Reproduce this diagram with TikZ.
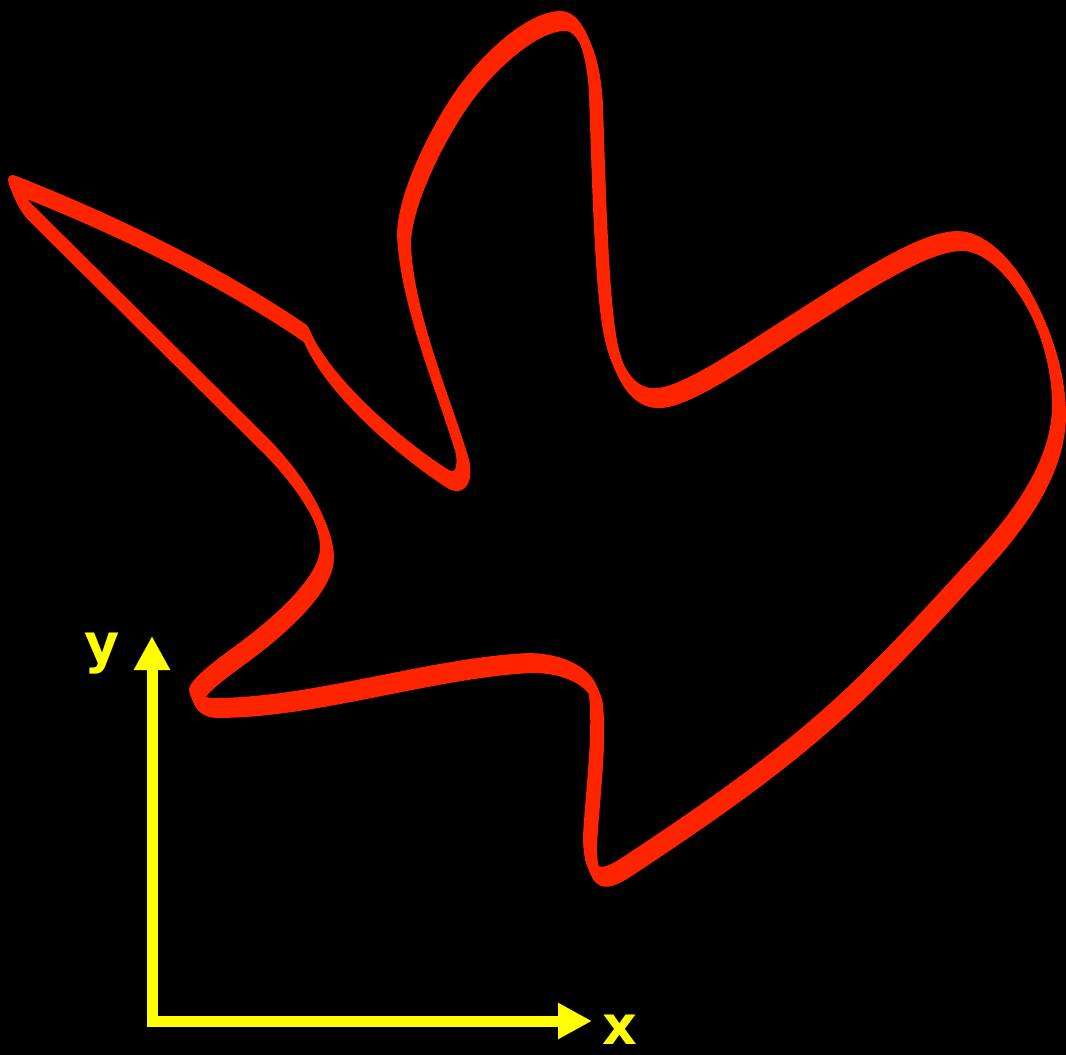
\documentclass[tikz,border=0pt]{standalone}
\usepackage{fontspec}
\newfontfamily\labfont{DejaVu Sans}
\usetikzlibrary{arrows.meta}
\definecolor{blobred}{RGB}{255,36,0}
\definecolor{axisyellow}{RGB}{255,255,0}
\tikzset{
  blobline/.style={draw=blobred, line width=9.5pt, line join=round, line cap=round},
  axisline/.style={draw=axisyellow, line width=11pt, line cap=rect, -{Triangle[length=34pt,width=34pt]}},
  axislabel/.style={text=axisyellow, inner sep=0pt, anchor=base, font=\labfont\bfseries\fontsize{54}{60}\selectfont}
}
\def\blob{
 (15,185) .. controls (110,222) and (220,275) .. (306,334)
 .. controls (326,384) and (398,447) .. (448,479)
 .. controls (462,487) and (466,471) .. (462,455)
 .. controls (444,395) and (407,310) .. (404,240)
 .. controls (404,200) and (437,135) .. (461,100)
 .. controls (489,60) and (533,21) .. (563,21)
 .. controls (581,21) and (594,55) .. (596,100)
 .. controls (599,190) and (602,305) .. (612,345)
 .. controls (618,370) and (632,401) .. (660,398)
 .. controls (690,395) and (747,355) .. (807,317)
 .. controls (867,279) and (925,241) .. (960,241)
 .. controls (1005,241) and (1059,330) .. (1059,410)
 .. controls (1059,466) and (1021,519) .. (980,563)
 .. controls (861,693) and (817,742) .. (625,868)
 .. controls (600,884) and (590,880) .. (590,840)
 .. controls (593,790) and (600,740) .. (596,700)
 .. controls (594,678) and (565,663) .. (530,663)
 .. controls (430,668) and (315,708) .. (215,708)
 .. controls (205,708) and (196,702) .. (196,694)
 .. controls (203,681) and (231,662) .. (247,650)
 .. controls (283,623) and (327,583) .. (327,553)
 .. controls (327,518) and (293,473) .. (265,445)
 -- (30,212)
 .. controls (23,205) and (17,193) .. (15,185)
 -- cycle
}
\begin{document}
\begin{tikzpicture}[x=1pt,y=-1pt]
\fill[black] (0,0) rectangle (1066,1055);
\useasboundingbox (0,0) rectangle (1066,1055);
\foreach \t in {-4,...,4} {
  \draw[blobline, shift={(\t*0.55,\t*1.3)}] \blob;
}
\coordinate (O) at (152,1021);
\coordinate (ytip) at (152,636);
\coordinate (xtip) at (592,1021);
\draw[axisline] (O) -- (ytip);
\draw[axisline] (O) -- (xtip);
\node[axislabel] (ylab) at (102,662) {y};
\node[axislabel] (xlab) at (620,1044) {x};
\end{tikzpicture}
\end{document}
